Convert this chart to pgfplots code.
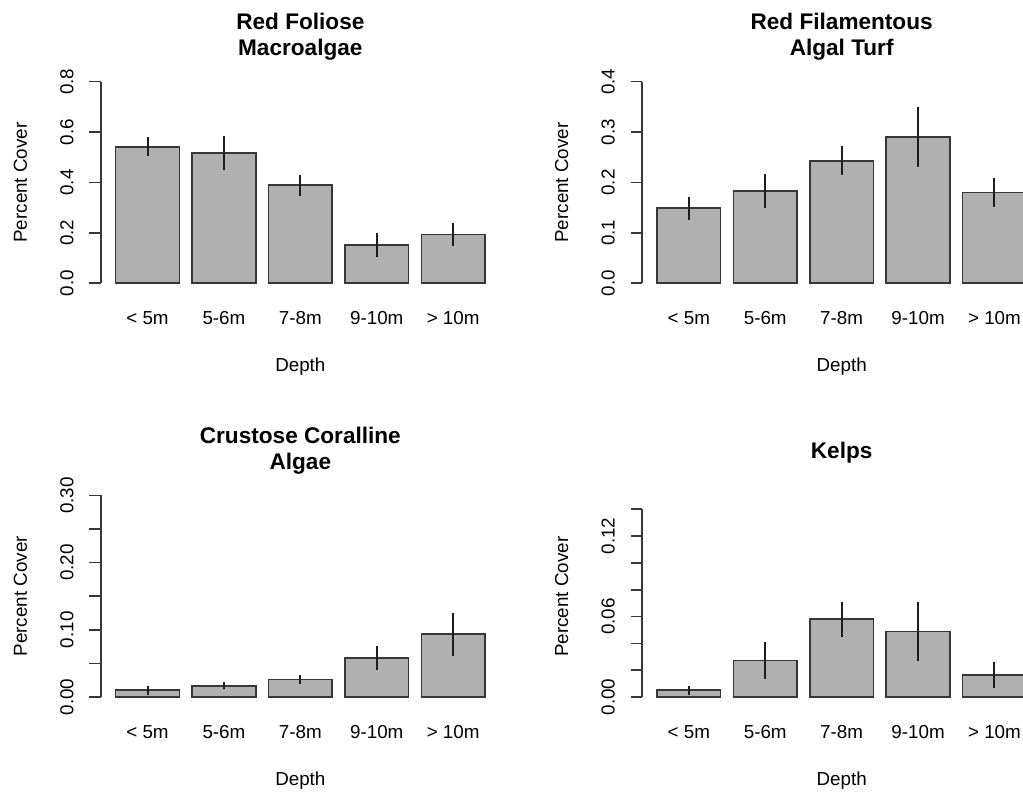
\documentclass[border=0pt]{standalone}
\usepackage{pgfplots}
\pgfplotsset{compat=1.18}
\usepackage{pgfplotstable}
\usepackage{fontspec}
\setmainfont{Liberation Sans}
\definecolor{barfill}{RGB}{176,176,176}
\definecolor{edge}{RGB}{55,55,55}
\definecolor{errc}{RGB}{30,30,30}
\newcommand\lab{\fontsize{18.8}{22}\selectfont}
\newcommand\ttl{\fontsize{22.6}{25.7}\selectfont\bfseries}

\pgfplotstableread{
x y e
0.7 0.542 0.037
1.9 0.517 0.066
3.1 0.389 0.042
4.3 0.152 0.047
5.5 0.194 0.045
}\tblA
\pgfplotstableread{
x y e
0.7 0.149 0.023
1.9 0.183 0.033
3.1 0.243 0.029
4.3 0.290 0.060
5.5 0.180 0.029
}\tblB
\pgfplotstableread{
x y e
0.7 0.0100 0.0065
1.9 0.0164 0.0052
3.1 0.0259 0.0065
4.3 0.0582 0.0184
5.5 0.0935 0.0320
}\tblC
\pgfplotstableread{
x y e
0.7 0.0050 0.0034
1.9 0.0271 0.0137
3.1 0.0580 0.0130
4.3 0.0488 0.0222
5.5 0.0162 0.0096
}\tblD

\pgfplotsset{rpanel/.style={
  scale only axis, width=398.9pt, xmin=-0.032, xmax=6.232, ymin=0,
  enlargelimits=false, clip=false,
  axis y line=left, axis x line=bottom,
  x axis line style={draw=none},
  y axis line style={-, line width=1.6pt, color=edge},
  xtick={0.7,1.9,3.1,4.3,5.5},
  xticklabels={{< 5m},{5-6m},{7-8m},{9-10m},{> 10m}},
  xtick style={draw=none},
  major tick length=11.7pt, tick align=outside,
  ytick style={line width=1.6pt, color=edge},
  xticklabel style={anchor=base, yshift=-30pt, font=\lab, text=black},
  yticklabel style={xshift=-15.9pt, rotate=90, anchor=base, font=\lab, text=black},
  ylabel={Percent Cover}, xlabel={Depth},
  ylabel style={at={(axis description cs:-0.1855,0.5)}, anchor=base, font=\lab},
  xlabel style={at={(axis description cs:0.5,0)}, yshift=-88.5pt, anchor=base, font=\lab},
  title style={at={(axis description cs:0.5,1)}, anchor=base, align=center, font=\ttl},
  ybar, bar width=1,
}}
\pgfplotsset{rbar/.style={fill=barfill, draw=edge, line width=1.6pt,
  error bars/.cd, y dir=both, y explicit, error mark=none,
  error bar style={line width=2pt, color=errc}}}

\begin{document}
\begin{tikzpicture}[x=1pt,y=1pt]
\useasboundingbox (0,0) rectangle (1023,793);
\clip (0,0) rectangle (1023,793);

\begin{axis}[rpanel, at={(100.9pt,509.7pt)}, anchor=south west,
  height=201.6pt, ymax=0.8,
  ytick={0,0.2,0.4,0.6,0.8}, yticklabels={0.0,0.2,0.4,0.6,0.8},
  title={Red Foliose\\Macroalgae}, title style={yshift=20pt}]
\addplot[rbar] table[x=x, y=y, y error=e] {\tblA};
\end{axis}

\begin{axis}[rpanel, at={(642.2pt,509.7pt)}, anchor=south west,
  height=201.6pt, ymax=0.4,
  ytick={0,0.1,0.2,0.3,0.4}, yticklabels={0.0,0.1,0.2,0.3,0.4},
  title={Red Filamentous\\Algal Turf}, title style={yshift=20pt}]
\addplot[rbar] table[x=x, y=y, y error=e] {\tblB};
\end{axis}

\begin{axis}[rpanel, at={(100.9pt,96pt)}, anchor=south west,
  height=201.6pt, ymax=0.3,
  ytick={0,0.05,0.1,0.15,0.2,0.25,0.3}, yticklabels={0.00,,0.10,,0.20,,0.30},
  title={Crustose Coralline\\Algae}, title style={yshift=20pt}]
\addplot[rbar] table[x=x, y=y, y error=e] {\tblC};
\end{axis}

\begin{axis}[rpanel, at={(642.2pt,96pt)}, anchor=south west,
  height=187.7pt, ymax=0.14,
  ytick={0,0.02,0.04,0.06,0.08,0.1,0.12,0.14}, yticklabels={0.00,,,0.06,,,0.12,},
  ylabel style={at={(axis description cs:-0.1855,0.535)}},
  title={Kelps}, title style={yshift=44.5pt}]
\addplot[rbar] table[x=x, y=y, y error=e] {\tblD};
\end{axis}
\end{tikzpicture}
\end{document}
